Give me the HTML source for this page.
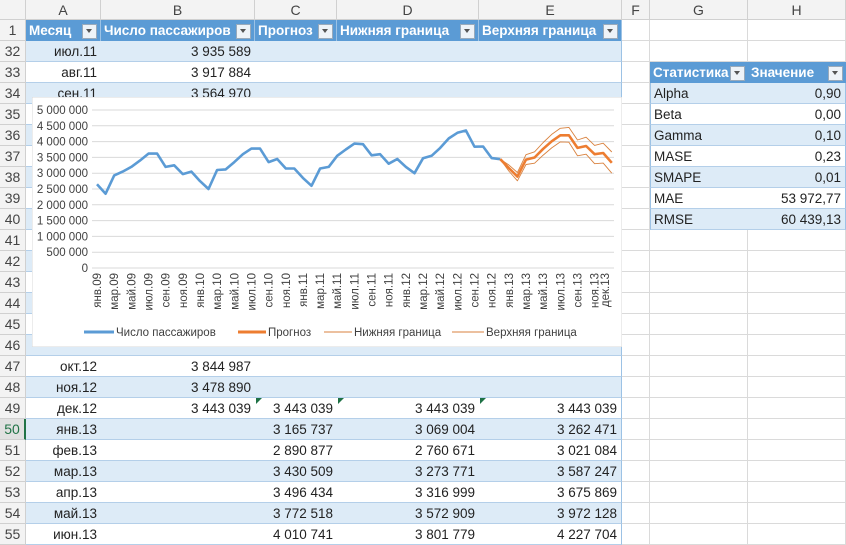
<!DOCTYPE html>
<html><head><meta charset="utf-8"><style>
body{margin:0;width:846px;height:534px;overflow:hidden;background:#fff;font-family:"Liberation Sans",sans-serif;position:relative}
.c{position:absolute;box-sizing:border-box;font-size:13.5px;color:#222;white-space:nowrap;overflow:hidden;line-height:21px}
.h{background:#f3f3f3;color:#444;text-align:center;border-right:1px solid #d0d0d0;border-bottom:1px solid #d0d0d0;font-size:14px}
.g{border-right:1px solid #dadada;border-bottom:1px solid #dadada}
.b{background:#ddebf7;border-bottom:1px solid #b4cfe9}
.w{background:#fff;border-bottom:1px solid #b4cfe9}
.t{background:#5b9bd5;color:#fff;font-weight:bold;padding-left:3px}
.r{text-align:right;padding-right:4px}
.dd{position:absolute;right:3px;top:4px;width:13px;height:13px;background:#eef3f8;border:1px solid #9ab}
.dd:after{content:"";position:absolute;left:3px;top:4px;border-left:3.5px solid transparent;border-right:3.5px solid transparent;border-top:4px solid #555}
</style></head><body>
<svg id="ch" style="position:absolute;left:32px;top:97px" width="590" height="250"></svg>
<script>
var root=document.body;
function cell(x,y,w,h,cls,txt,extra){var d=document.createElement('div');d.className='c '+cls;d.style.cssText='left:'+x+'px;top:'+y+'px;width:'+w+'px;height:'+h+'px;'+(extra||'');d.innerHTML=txt;root.insertBefore(d,document.getElementById('ch'));return d;}
var cols=[[26,101,'A'],[101,255,'B'],[255,337,'C'],[337,479,'D'],[479,622,'E'],[622,650,'F'],[650,748,'G'],[748,846,'H']];
var rows=[1];for(var r=32;r<=55;r++)rows.push(r);
function rowY(i){return 20+i*21;}
for(var i=0;i<rows.length;i++){var y=rowY(i);
 for(var j=0;j<cols.length;j++)cell(cols[j][0],y,cols[j][1]-cols[j][0],21,'g','');
 cell(0,y,26,21,'h',rows[i],rows[i]==50?'color:#217346;border-right:2px solid #217346;background:#e1e1e1':'');}
cell(0,0,26,20,'h','');
for(var j=0;j<cols.length;j++)cell(cols[j][0],0,cols[j][1]-cols[j][0],20,'h',cols[j][2]);
var hd=['Месяц','Число пассажиров','Прогноз','Нижняя граница','Верхняя граница'];
for(var j=0;j<5;j++){var d=cell(cols[j][0],20,cols[j][1]-cols[j][0],21,'t',hd[j],'border-right:1px solid #9cc2e5');d.innerHTML+='<span class="dd"></span>';}
function trow(r,vals){var i=rows.indexOf(r),y=rowY(i),cl=(r%2==0)?'b':'w';
 for(var j=0;j<5;j++)cell(cols[j][0],y,cols[j][1]-cols[j][0],21,cl+' r',vals[j]||'',j==4?'border-right:1px solid #9cc2e5':'');}
trow(32,['июл.11','3 935 589']);trow(33,['авг.11','3 917 884']);trow(34,['сен.11','3 564 970']);
for(var r=35;r<=46;r++)trow(r,['','']);
trow(47,['окт.12','3 844 987']);trow(48,['ноя.12','3 478 890']);
trow(49,['дек.12','3 443 039','3 443 039','3 443 039','3 443 039']);
trow(50,['янв.13','','3 165 737','3 069 004','3 262 471']);
trow(51,['фев.13','','2 890 877','2 760 671','3 021 084']);
trow(52,['мар.13','','3 430 509','3 273 771','3 587 247']);
trow(53,['апр.13','','3 496 434','3 316 999','3 675 869']);
trow(54,['май.13','','3 772 518','3 572 909','3 972 128']);
trow(55,['июн.13','','4 010 741','3 801 779','4 227 704']);
[[256,rowY(rows.indexOf(49))],[338,rowY(rows.indexOf(49))],[480,rowY(rows.indexOf(49))]].forEach(function(p){cell(p[0],p[1],6,6,'','','border-top:6px solid #1e7145;border-right:6px solid transparent;height:0;width:0;overflow:visible');});
var sy=rowY(rows.indexOf(33));
var d=cell(650,sy,98,21,'t','Статистика');d.innerHTML+='<span class="dd"></span>';
d=cell(748,sy,98,21,'t','Значение');d.innerHTML+='<span class="dd"></span>';
var st=[['Alpha','0,90'],['Beta','0,00'],['Gamma','0,10'],['MASE','0,23'],['SMAPE','0,01'],['MAE','53 972,77'],['RMSE','60 439,13']];
st.forEach(function(s,k){var r=34+k,y=rowY(rows.indexOf(r)),cl=(r%2==0)?'b':'w';
 cell(650,y,98,21,cl,s[0],'padding-left:3px;border-left:1px solid #9cc2e5');cell(748,y,98,21,cl+' r',s[1],'border-right:1px solid #9cc2e5');});
var svg=document.getElementById('ch'),s='';
s+='<rect x="0" y="0" width="590" height="250" fill="#fff" stroke="#d9d9d9"/>';
var X0=65,DX=8.58,Y0=171,K=31.6,FS=11.5,FC='#404040';
for(var v=0;v<=10;v++){var y=Y0-v*0.5*K;s+='<line x1="60" x2="582" y1="'+y+'" y2="'+y+'" stroke="#d9d9d9"/>';
 var n=v*500000,t=n==0?'0':n.toString().replace(/\B(?=(\d{3})+(?!\d))/g,' ');
 s+='<text x="56" y="'+(y+4)+'" text-anchor="end" font-size="'+FS+'" fill="'+FC+'" font-family="Liberation Sans">'+t+'</text>';}
var m=['янв','фев','мар','апр','май','июн','июл','авг','сен','окт','ноя','дек'];
var idx=[];for(var i=0;i<60;i+=2)idx.push(i);idx.push(59);
idx.forEach(function(i){var x=X0+i*DX+(i==59?2:0);var yy=9+Math.floor(i/12);s+='<text transform="translate('+(x+4)+',176) rotate(-90)" text-anchor="end" font-size="'+FS+'" fill="'+FC+'" font-family="Liberation Sans">'+m[i%12]+'.'+(yy<10?'0':'')+yy+'</text>';});
var a=[2.65,2.35,2.93,3.05,3.2,3.4,3.62,3.62,3.2,3.25,2.97,3.05,2.75,2.5,3.1,3.12,3.35,3.6,3.78,3.78,3.35,3.45,3.15,3.15,2.85,2.6,3.15,3.2,3.55,3.75,3.936,3.918,3.565,3.6,3.3,3.45,3.2,3.0,3.47,3.55,3.8,4.1,4.28,4.35,3.84,3.845,3.479,3.443];
var f=[3.443,3.166,2.891,3.431,3.496,3.773,4.011,4.2,4.2,3.8,3.86,3.6,3.64,3.33];
var lo=[3.443,3.069,2.761,3.274,3.317,3.573,3.802,3.99,3.98,3.55,3.6,3.3,3.32,3.0];
var hi=[3.443,3.262,3.021,3.587,3.676,3.972,4.228,4.42,4.45,4.05,4.14,3.88,3.95,3.67];
function pl(arr,st,col,w){var p=arr.map(function(v,k){return (X0+(st+k)*DX).toFixed(1)+','+(Y0-v*K).toFixed(1)}).join(' ');return '<polyline points="'+p+'" fill="none" stroke="'+col+'" stroke-width="'+w+'" stroke-linejoin="round"/>';}
s+=pl(a,0,'#5b9bd5',2.6)+pl(lo,47,'#d9823f',0.9)+pl(hi,47,'#d9823f',0.9)+pl(f,47,'#ed7d31',2.6);
var ly=235;
function lt(x,t){return '<text x="'+x+'" y="'+(ly+4)+'" font-size="'+FS+'" fill="'+FC+'" font-family="Liberation Sans">'+t+'</text>';}
s+='<line x1="52" x2="82" y1="'+ly+'" y2="'+ly+'" stroke="#5b9bd5" stroke-width="3"/>'+lt(84,'Число пассажиров');
s+='<line x1="206" x2="234" y1="'+ly+'" y2="'+ly+'" stroke="#ed7d31" stroke-width="3"/>'+lt(236,'Прогноз');
s+='<line x1="292" x2="320" y1="'+ly+'" y2="'+ly+'" stroke="#d9823f" stroke-width="1"/>'+lt(322,'Нижняя граница');
s+='<line x1="420" x2="452" y1="'+ly+'" y2="'+ly+'" stroke="#d9823f" stroke-width="1"/>'+lt(454,'Верхняя граница');
svg.innerHTML=s;
</script>
</body></html>
